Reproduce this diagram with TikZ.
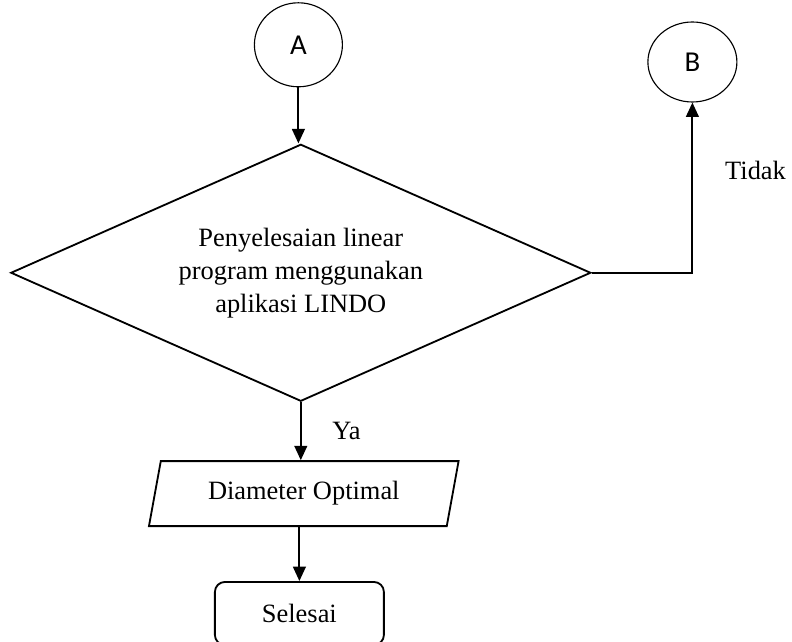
\documentclass[tikz,border=0pt]{standalone}
\usepackage{fontspec}
\setmainfont{Liberation Serif}
\newfontfamily\connfont{Carlito}
\usepackage{tikz}
\usetikzlibrary{shapes.geometric, arrows.meta, positioning}
\tikzstyle{connector} = [
    ellipse,
    minimum width=2.2cm,
    minimum height=2.1cm,
    inner sep=0pt,
    draw=black,
    line width=0.8pt,
    font=\connfont\fontsize{20.5}{24}\selectfont
]
\tikzstyle{decision} = [
    diamond,
    aspect=2.26,
    minimum width=14.5cm,
    minimum height=6.425cm,
    inner sep=0pt,
    text centered,
    align=center,
    draw=black,
    line width=1.3pt,
    font=\fontsize{18.8}{23.4}\selectfont
]
\tikzstyle{io} = [
    trapezium,
    trapezium left angle=76,
    trapezium right angle=104,
    trapezium stretches=true,
    minimum width=7.75cm,
    minimum height=1.625cm,
    text centered,
    draw=black,
    line width=1.3pt,
    font=\fontsize{18.8}{23.4}\selectfont
]
\tikzstyle{startstop} = [
    rectangle,
    rounded corners=0.25cm,
    minimum width=4.225cm,
    minimum height=1.575cm,
    text centered,
    draw=black,
    line width=1.3pt,
    font=\fontsize{18.8}{23.4}\selectfont
]
\tikzstyle{arrow} = [
    line width=1.3pt,
    -{Triangle[length=0.36cm,width=0.32cm]}
]
\tikzstyle{label} = [
    font=\fontsize{18.8}{23.4}\selectfont
]

\begin{document}
\begin{tikzpicture}

\useasboundingbox (0,0) rectangle (19.8,16.05);

\node (conA) [connector] at (7.46,14.93)
{A};

\node (conB) [connector, minimum width=2.225cm, minimum height=2.0cm] at (17.31,14.5)
{B};

\node (solve) [decision, below=1.4cm of conA, xshift=0.06cm]
{Penyelesaian linear\\program menggunakan\\aplikasi LINDO};

\node (diameter) [io, below=1.45cm of solve, xshift=0.075cm]
{Diameter Optimal};

\node (stop) [startstop, below=1.35cm of diameter, xshift=-0.11cm]
{Selesai};

\draw [arrow] (conA) -- (conA |- solve.north);

\draw [arrow]
(solve.south) -- node[label, anchor=west, xshift=0.65cm] {Ya} (solve.south |- diameter.north);

\draw [arrow]
(solve.east) -| node[label, pos=0.8, anchor=west, xshift=0.68cm] {Tidak} (conB);

\draw [arrow]
(diameter.south -| stop.north) -- (stop);

\end{tikzpicture}
\end{document}
